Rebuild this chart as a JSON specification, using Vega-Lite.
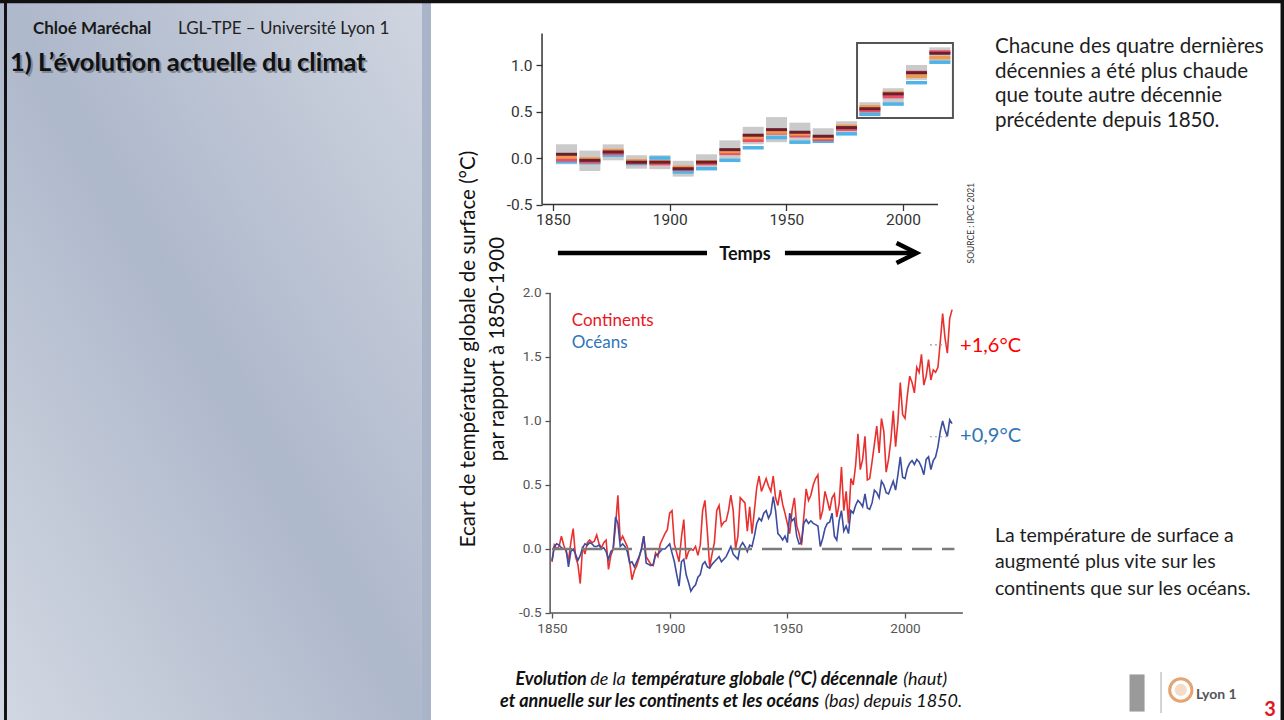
{
"$schema":"https://vega.github.io/schema/vega-lite/v6.json",
"padding":0,"spacing":0,"bounds":"flush","background":"white",
"config":{"view":{"stroke":null},"font":"Lato"},
"datasets":{
"decades":[
{"start":1851.3,"end":1860.3,"lo":-0.068,"hi":0.147,"cyan":-0.04,"red":-0.02,"orange":0.01,"dark":0.04},
{"start":1861.3,"end":1870.3,"lo":-0.14,"hi":0.08,"cyan":-0.05,"red":-0.04,"orange":-0.01,"dark":-0.025},
{"start":1871.3,"end":1880.3,"lo":-0.025,"hi":0.147,"cyan":0.03,"red":0.05,"orange":0.08,"dark":0.065},
{"start":1881.3,"end":1890.3,"lo":-0.115,"hi":0.03,"cyan":-0.06,"red":-0.05,"orange":-0.03,"dark":-0.045},
{"start":1891.3,"end":1900.3,"lo":-0.12,"hi":0.03,"cyan":0.0,"red":-0.06,"orange":-0.04,"dark":-0.045},
{"start":1901.3,"end":1910.3,"lo":-0.2,"hi":-0.03,"cyan":-0.15,"red":-0.12,"orange":-0.1,"dark":-0.115},
{"start":1911.3,"end":1920.3,"lo":-0.11,"hi":0.04,"cyan":-0.115,"red":-0.06,"orange":-0.04,"dark":-0.045},
{"start":1921.3,"end":1930.3,"lo":-0.04,"hi":0.19,"cyan":-0.025,"red":0.05,"orange":0.07,"dark":0.09},
{"start":1931.3,"end":1940.3,"lo":0.147,"hi":0.335,"cyan":0.11,"red":0.19,"orange":0.22,"dark":0.245},
{"start":1941.3,"end":1950.3,"lo":0.17,"hi":0.44,"cyan":0.22,"red":0.27,"orange":0.28,"dark":0.305},
{"start":1951.3,"end":1960.3,"lo":0.16,"hi":0.38,"cyan":0.17,"red":0.24,"orange":0.26,"dark":0.277},
{"start":1961.3,"end":1970.3,"lo":0.16,"hi":0.32,"cyan":0.18,"red":0.2,"orange":0.22,"dark":0.234},
{"start":1971.3,"end":1980.3,"lo":0.25,"hi":0.395,"cyan":0.26,"red":0.31,"orange":0.34,"dark":0.327},
{"start":1981.3,"end":1990.3,"lo":0.45,"hi":0.6,"cyan":0.47,"red":0.51,"orange":0.55,"dark":0.53},
{"start":1991.3,"end":2000.3,"lo":0.57,"hi":0.75,"cyan":0.58,"red":0.66,"orange":0.7,"dark":0.69},
{"start":2001.3,"end":2010.3,"lo":0.84,"hi":1.0,"cyan":0.81,"red":0.92,"orange":0.88,"dark":0.917},
{"start":2011.3,"end":2020.3,"lo":1.02,"hi":1.19,"cyan":1.03,"red":1.14,"orange":1.08,"dark":1.126}
],
"annual":[
{"year":1850,"land":-0.10,"ocean":-0.09},{"year":1851,"land":0.03,"ocean":0.02},{"year":1852,"land":0.00,"ocean":0.04},{"year":1853,"land":0.02,"ocean":0.03},{"year":1854,"land":0.10,"ocean":0.01},{"year":1855,"land":0.03,"ocean":0.00},{"year":1856,"land":-0.02,"ocean":0.00},{"year":1857,"land":-0.09,"ocean":-0.14},{"year":1858,"land":0.05,"ocean":-0.02},{"year":1859,"land":0.16,"ocean":0.00},
{"year":1860,"land":-0.06,"ocean":-0.04},{"year":1861,"land":-0.12,"ocean":-0.09},{"year":1862,"land":-0.27,"ocean":-0.05},{"year":1863,"land":0.02,"ocean":0.01},{"year":1864,"land":-0.04,"ocean":0.04},{"year":1865,"land":0.05,"ocean":0.03},{"year":1866,"land":0.07,"ocean":0.05},{"year":1867,"land":0.05,"ocean":0.04},{"year":1868,"land":0.06,"ocean":0.02},{"year":1869,"land":0.11,"ocean":0.02},
{"year":1870,"land":0.04,"ocean":0.03},{"year":1871,"land":0.01,"ocean":0.00},{"year":1872,"land":0.05,"ocean":0.01},{"year":1873,"land":0.07,"ocean":-0.02},{"year":1874,"land":-0.16,"ocean":-0.08},{"year":1875,"land":-0.05,"ocean":-0.02},{"year":1876,"land":0.00,"ocean":0.00},{"year":1877,"land":0.18,"ocean":0.25},{"year":1878,"land":0.42,"ocean":0.20},{"year":1879,"land":0.06,"ocean":0.02},
{"year":1880,"land":0.10,"ocean":0.04},{"year":1881,"land":0.06,"ocean":0.02},{"year":1882,"land":0.02,"ocean":-0.02},{"year":1883,"land":-0.10,"ocean":-0.11},{"year":1884,"land":-0.24,"ocean":-0.10},{"year":1885,"land":-0.17,"ocean":-0.14},{"year":1886,"land":-0.13,"ocean":-0.10},{"year":1887,"land":-0.07,"ocean":-0.06},{"year":1888,"land":0.00,"ocean":0.00},{"year":1889,"land":0.10,"ocean":0.10},
{"year":1890,"land":-0.06,"ocean":-0.11},{"year":1891,"land":-0.09,"ocean":-0.12},{"year":1892,"land":-0.12,"ocean":-0.13},{"year":1893,"land":-0.13,"ocean":-0.12},{"year":1894,"land":-0.03,"ocean":-0.05},{"year":1895,"land":-0.06,"ocean":-0.04},{"year":1896,"land":0.04,"ocean":-0.02},{"year":1897,"land":0.08,"ocean":0.00},{"year":1898,"land":0.12,"ocean":0.00},{"year":1899,"land":0.15,"ocean":0.02},
{"year":1900,"land":0.28,"ocean":0.04},{"year":1901,"land":0.30,"ocean":-0.03},{"year":1902,"land":0.04,"ocean":-0.10},{"year":1903,"land":-0.03,"ocean":-0.20},{"year":1904,"land":-0.10,"ocean":-0.29},{"year":1905,"land":0.09,"ocean":-0.10},{"year":1906,"land":0.23,"ocean":-0.08},{"year":1907,"land":-0.08,"ocean":-0.20},{"year":1908,"land":-0.02,"ocean":-0.26},{"year":1909,"land":0.00,"ocean":-0.33},
{"year":1910,"land":-0.01,"ocean":-0.30},{"year":1911,"land":0.02,"ocean":-0.28},{"year":1912,"land":-0.05,"ocean":-0.22},{"year":1913,"land":0.03,"ocean":-0.20},{"year":1914,"land":0.30,"ocean":-0.12},{"year":1915,"land":0.38,"ocean":-0.10},{"year":1916,"land":0.14,"ocean":-0.14},{"year":1917,"land":-0.14,"ocean":-0.15},{"year":1918,"land":-0.04,"ocean":-0.12},{"year":1919,"land":0.05,"ocean":-0.10},
{"year":1920,"land":0.30,"ocean":-0.08},{"year":1921,"land":0.34,"ocean":-0.06},{"year":1922,"land":0.18,"ocean":-0.10},{"year":1923,"land":0.21,"ocean":-0.08},{"year":1924,"land":0.22,"ocean":-0.06},{"year":1925,"land":0.30,"ocean":-0.02},{"year":1926,"land":0.42,"ocean":0.02},{"year":1927,"land":0.30,"ocean":-0.04},{"year":1928,"land":0.00,"ocean":-0.06},{"year":1929,"land":0.10,"ocean":-0.08},
{"year":1930,"land":0.40,"ocean":0.02},{"year":1931,"land":0.38,"ocean":0.05},{"year":1932,"land":0.36,"ocean":0.02},{"year":1933,"land":0.14,"ocean":-0.02},{"year":1934,"land":0.33,"ocean":0.03},{"year":1935,"land":0.12,"ocean":0.02},{"year":1936,"land":0.30,"ocean":0.10},{"year":1937,"land":0.48,"ocean":0.20},{"year":1938,"land":0.57,"ocean":0.24},{"year":1939,"land":0.45,"ocean":0.22},
{"year":1940,"land":0.50,"ocean":0.28},{"year":1941,"land":0.55,"ocean":0.30},{"year":1942,"land":0.49,"ocean":0.24},{"year":1943,"land":0.45,"ocean":0.28},{"year":1944,"land":0.57,"ocean":0.41},{"year":1945,"land":0.40,"ocean":0.30},{"year":1946,"land":0.34,"ocean":0.12},{"year":1947,"land":0.46,"ocean":0.10},{"year":1948,"land":0.35,"ocean":0.07},{"year":1949,"land":0.28,"ocean":0.10},
{"year":1950,"land":0.20,"ocean":0.05},{"year":1951,"land":0.12,"ocean":0.28},{"year":1952,"land":0.30,"ocean":0.22},{"year":1953,"land":0.40,"ocean":0.24},{"year":1954,"land":0.18,"ocean":0.10},{"year":1955,"land":0.12,"ocean":0.04},{"year":1956,"land":0.03,"ocean":0.05},{"year":1957,"land":0.25,"ocean":0.20},{"year":1958,"land":0.47,"ocean":0.23},{"year":1959,"land":0.38,"ocean":0.20},
{"year":1960,"land":0.42,"ocean":0.22},{"year":1961,"land":0.50,"ocean":0.20},{"year":1962,"land":0.55,"ocean":0.19},{"year":1963,"land":0.58,"ocean":0.18},{"year":1964,"land":0.23,"ocean":0.02},{"year":1965,"land":0.30,"ocean":0.08},{"year":1966,"land":0.45,"ocean":0.16},{"year":1967,"land":0.38,"ocean":0.20},{"year":1968,"land":0.30,"ocean":0.21},{"year":1969,"land":0.40,"ocean":0.28},
{"year":1970,"land":0.43,"ocean":0.10},{"year":1971,"land":0.25,"ocean":0.07},{"year":1972,"land":0.35,"ocean":0.22},{"year":1973,"land":0.64,"ocean":0.30},{"year":1974,"land":0.30,"ocean":0.14},{"year":1975,"land":0.45,"ocean":0.18},{"year":1976,"land":0.20,"ocean":0.12},{"year":1977,"land":0.55,"ocean":0.30},{"year":1978,"land":0.50,"ocean":0.28},{"year":1979,"land":0.65,"ocean":0.34},
{"year":1980,"land":0.90,"ocean":0.38},{"year":1981,"land":0.62,"ocean":0.36},{"year":1982,"land":0.70,"ocean":0.33},{"year":1983,"land":0.88,"ocean":0.43},{"year":1984,"land":0.54,"ocean":0.32},{"year":1985,"land":0.55,"ocean":0.31},{"year":1986,"land":0.68,"ocean":0.36},{"year":1987,"land":0.82,"ocean":0.46},{"year":1988,"land":0.96,"ocean":0.44},{"year":1989,"land":0.75,"ocean":0.40},
{"year":1990,"land":1.02,"ocean":0.53},{"year":1991,"land":0.92,"ocean":0.50},{"year":1992,"land":0.60,"ocean":0.44},{"year":1993,"land":0.70,"ocean":0.43},{"year":1994,"land":0.85,"ocean":0.48},{"year":1995,"land":1.08,"ocean":0.53},{"year":1996,"land":0.80,"ocean":0.46},{"year":1997,"land":1.00,"ocean":0.58},{"year":1998,"land":1.30,"ocean":0.72},{"year":1999,"land":1.05,"ocean":0.56},
{"year":2000,"land":1.02,"ocean":0.55},{"year":2001,"land":1.20,"ocean":0.63},{"year":2002,"land":1.35,"ocean":0.67},{"year":2003,"land":1.30,"ocean":0.69},{"year":2004,"land":1.22,"ocean":0.66},{"year":2005,"land":1.42,"ocean":0.70},{"year":2006,"land":1.38,"ocean":0.68},{"year":2007,"land":1.52,"ocean":0.64},{"year":2008,"land":1.28,"ocean":0.58},{"year":2009,"land":1.35,"ocean":0.70},
{"year":2010,"land":1.48,"ocean":0.72},{"year":2011,"land":1.32,"ocean":0.62},{"year":2012,"land":1.40,"ocean":0.69},{"year":2013,"land":1.38,"ocean":0.72},{"year":2014,"land":1.42,"ocean":0.80},{"year":2015,"land":1.62,"ocean":0.92},{"year":2016,"land":1.84,"ocean":1.00},{"year":2017,"land":1.65,"ocean":0.93},{"year":2018,"land":1.53,"ocean":0.88},{"year":2019,"land":1.80,"ocean":1.01},{"year":2020,"land":1.87,"ocean":0.98}
]
},
"hconcat":[
{
"width":431,"height":720,
"layer":[
{"data":{"values":[{}]},"mark":{"type":"rect","color":{"gradient":"linear","x1":0,"y1":1,"x2":1,"y2":0,"stops":[{"offset":0,"color":"#d2d8e2"},{"offset":0.5,"color":"#aeb8cb"},{"offset":1,"color":"#cfd5e0"}]}},
 "encoding":{"x":{"datum":0,"type":"quantitative","scale":{"domain":[0,1],"nice":false,"zero":false},"axis":null},"x2":{"datum":0.979},"y":{"datum":0,"type":"quantitative","scale":{"domain":[0,1],"reverse":true,"nice":false,"zero":false},"axis":null},"y2":{"datum":1}}},
{"data":{"values":[{}]},"mark":{"type":"rect","color":"#aab4c9"},
 "encoding":{"x":{"datum":0.979,"type":"quantitative","scale":{"domain":[0,1],"nice":false,"zero":false},"axis":null},"x2":{"datum":1},"y":{"datum":0,"type":"quantitative","scale":{"domain":[0,1],"reverse":true,"nice":false,"zero":false},"axis":null},"y2":{"datum":1}}},
{"data":{"values":[{}]},"mark":{"type":"rect","color":"#111"},
 "encoding":{"x":{"datum":0,"type":"quantitative","scale":{"domain":[0,1],"nice":false,"zero":false},"axis":null},"x2":{"datum":1},"y":{"datum":0,"type":"quantitative","scale":{"domain":[0,1],"reverse":true,"nice":false,"zero":false},"axis":null},"y2":{"datum":0.0045}}},
{"data":{"values":[{}]},"mark":{"type":"rect","color":"#111"},
 "encoding":{"x":{"datum":0.0093,"type":"quantitative","scale":{"domain":[0,1],"nice":false,"zero":false},"axis":null},"x2":{"datum":0.0162},"y":{"datum":0,"type":"quantitative","scale":{"domain":[0,1],"reverse":true,"nice":false,"zero":false},"axis":null},"y2":{"datum":1}}},
{"data":{"values":[{}]},"mark":{"type":"text","text":"Chloé Maréchal","fontWeight":"bold","fontSize":17,"color":"#1a1a1a","align":"left"},
 "encoding":{"x":{"datum":0.0766,"type":"quantitative","scale":{"domain":[0,1],"nice":false,"zero":false},"axis":null},"y":{"datum":0.0396,"type":"quantitative","scale":{"domain":[0,1],"reverse":true,"nice":false,"zero":false},"axis":null}}},
{"data":{"values":[{}]},"mark":{"type":"text","text":"LGL-TPE – Université Lyon 1","fontSize":17,"color":"#222","align":"left"},
 "encoding":{"x":{"datum":0.413,"type":"quantitative","scale":{"domain":[0,1],"nice":false,"zero":false},"axis":null},"y":{"datum":0.0396,"type":"quantitative","scale":{"domain":[0,1],"reverse":true,"nice":false,"zero":false},"axis":null}}},
{"data":{"values":[{}]},"mark":{"type":"text","text":"1) L’évolution actuelle du climat","fontWeight":"bold","fontSize":25.5,"color":"#6d7380","opacity":0.7,"align":"left","dx":2,"dy":2},
 "encoding":{"x":{"datum":0.0232,"type":"quantitative","scale":{"domain":[0,1],"nice":false,"zero":false},"axis":null},"y":{"datum":0.0875,"type":"quantitative","scale":{"domain":[0,1],"reverse":true,"nice":false,"zero":false},"axis":null}}},
{"data":{"values":[{}]},"mark":{"type":"text","text":"1) L’évolution actuelle du climat","fontWeight":"bold","fontSize":25.5,"color":"#111","align":"left"},
 "encoding":{"x":{"datum":0.0232,"type":"quantitative","scale":{"domain":[0,1],"nice":false,"zero":false},"axis":null},"y":{"datum":0.0875,"type":"quantitative","scale":{"domain":[0,1],"reverse":true,"nice":false,"zero":false},"axis":null}}}
]
},
{
"width":853,"height":720,
"resolve":{"scale":{"x":"independent","y":"independent","color":"independent"},"axis":{"x":"independent","y":"independent"}},
"layer":[
{"data":{"values":[{}]},"mark":{"type":"rect","color":"#111"},
 "encoding":{"x":{"datum":1797.714,"type":"quantitative","scale":{"domain":[1797.714,2163.286],"nice":false,"zero":false},"axis":null},"x2":{"datum":2163.286},"y":{"datum":1.699,"type":"quantitative","scale":{"domain":[-6.043,1.699],"nice":false,"zero":false},"axis":null},"y2":{"datum":1.6646}}},
{"data":{"values":[{}]},"mark":{"type":"rect","color":"#111"},
 "encoding":{"x":{"datum":2161.8,"type":"quantitative","scale":{"domain":[1797.714,2163.286],"nice":false,"zero":false},"axis":null},"x2":{"datum":2163.286},"y":{"datum":1.699,"type":"quantitative","scale":{"domain":[-6.043,1.699],"nice":false,"zero":false},"axis":null},"y2":{"datum":-6.043}}},
{"data":{"name":"decades"},"mark":{"type":"rect","color":"#cacaca"},
 "encoding":{"x":{"field":"start","type":"quantitative","scale":{"domain":[1797.714,2163.286],"nice":false,"zero":false},
   "axis":{"orient":"bottom","offset":-515.5,"values":[1850,1900,1950,2000],"format":"d","domain":false,"grid":false,"tickSize":6,"tickColor":"#333","tickWidth":1.3,"labelFont":"Roboto","labelFontSize":15.5,"labelColor":"#333","labelPadding":2,"labelFlush":false,"title":null}},
  "x2":{"field":"end"},
  "y":{"field":"lo","type":"quantitative","scale":{"domain":[-6.043,1.699],"nice":false,"zero":false},
   "axis":{"orient":"left","offset":-111,"values":[-0.5,0,0.5,1],"labelExpr":"(datum.value < 0 ? '-' : '') + format(abs(datum.value), '.1f')","domain":false,"grid":false,"tickSize":6,"tickColor":"#333","tickWidth":1.3,"labelFont":"Roboto","labelFontSize":15.5,"labelColor":"#333","labelPadding":4,"labelFlush":false,"title":null}},
  "y2":{"field":"hi"}}},
{"data":{"name":"decades"},"mark":{"type":"rule","color":"#4fb3e8","strokeWidth":3.5},
 "encoding":{"x":{"field":"start","type":"quantitative","scale":{"domain":[1797.714,2163.286],"nice":false,"zero":false},"axis":null},"x2":{"field":"end"},"y":{"field":"cyan","type":"quantitative","scale":{"domain":[-6.043,1.699],"nice":false,"zero":false},"axis":null}}},
{"data":{"name":"decades"},"mark":{"type":"rule","color":"#e8506a","strokeWidth":3.5},
 "encoding":{"x":{"field":"start","type":"quantitative","scale":{"domain":[1797.714,2163.286],"nice":false,"zero":false},"axis":null},"x2":{"field":"end"},"y":{"field":"red","type":"quantitative","scale":{"domain":[-6.043,1.699],"nice":false,"zero":false},"axis":null}}},
{"data":{"name":"decades"},"mark":{"type":"rule","color":"#f0984c","strokeWidth":3.5},
 "encoding":{"x":{"field":"start","type":"quantitative","scale":{"domain":[1797.714,2163.286],"nice":false,"zero":false},"axis":null},"x2":{"field":"end"},"y":{"field":"orange","type":"quantitative","scale":{"domain":[-6.043,1.699],"nice":false,"zero":false},"axis":null}}},
{"data":{"name":"decades"},"mark":{"type":"rule","color":"#6b1f2e","strokeWidth":3},
 "encoding":{"x":{"field":"start","type":"quantitative","scale":{"domain":[1797.714,2163.286],"nice":false,"zero":false},"axis":null},"x2":{"field":"end"},"y":{"field":"dark","type":"quantitative","scale":{"domain":[-6.043,1.699],"nice":false,"zero":false},"axis":null}}},
{"data":{"values":[{}]},"mark":{"type":"rect","filled":false,"stroke":"#555","strokeWidth":2},
 "encoding":{"x":{"datum":1980.3,"type":"quantitative","scale":{"domain":[1797.714,2163.286],"nice":false,"zero":false},"axis":null},"x2":{"datum":2021.4},"y":{"datum":0.43,"type":"quantitative","scale":{"domain":[-6.043,1.699],"nice":false,"zero":false},"axis":null},"y2":{"datum":1.237}}},
{"data":{"values":[{}]},"mark":{"type":"rule","color":"#333","strokeWidth":1.5},
 "encoding":{"x":{"datum":1845.3,"type":"quantitative","scale":{"domain":[1797.714,2163.286],"nice":false,"zero":false},"axis":null},"y":{"datum":-0.5,"type":"quantitative","scale":{"domain":[-6.043,1.699],"nice":false,"zero":false},"axis":null},"y2":{"datum":1.34}}},
{"data":{"values":[{}]},"mark":{"type":"rule","color":"#333","strokeWidth":1.5},
 "encoding":{"x":{"datum":1845.3,"type":"quantitative","scale":{"domain":[1797.714,2163.286],"nice":false,"zero":false},"axis":null},"x2":{"datum":2015},"y":{"datum":-0.5,"type":"quantitative","scale":{"domain":[-6.043,1.699],"nice":false,"zero":false},"axis":null}}},
{"data":{"values":[{}]},"mark":{"type":"rule","color":"#000","strokeWidth":4.5},
 "encoding":{"x":{"datum":1852.1,"type":"quantitative","scale":{"domain":[1797.714,2163.286],"nice":false,"zero":false},"axis":null},"x2":{"datum":1916.0},"y":{"datum":-1.0215,"type":"quantitative","scale":{"domain":[-6.043,1.699],"nice":false,"zero":false},"axis":null}}},
{"data":{"values":[{}]},"mark":{"type":"rule","color":"#000","strokeWidth":4.5},
 "encoding":{"x":{"datum":1949.4,"type":"quantitative","scale":{"domain":[1797.714,2163.286],"nice":false,"zero":false},"axis":null},"x2":{"datum":2004.8},"y":{"datum":-1.0215,"type":"quantitative","scale":{"domain":[-6.043,1.699],"nice":false,"zero":false},"axis":null}}},
{"data":{"values":[{}]},"mark":{"type":"point","shape":"M -2 -1 L 0 0 L -2 1","size":400,"filled":false,"stroke":"#000","strokeWidth":4.5,"opacity":1},
 "encoding":{"x":{"datum":2005.8,"type":"quantitative","scale":{"domain":[1797.714,2163.286],"nice":false,"zero":false},"axis":null},"y":{"datum":-1.0215,"type":"quantitative","scale":{"domain":[-6.043,1.699],"nice":false,"zero":false},"axis":null}}},
{"data":{"values":[{}]},"mark":{"type":"text","text":"Temps","fontWeight":"bold","fontSize":18,"color":"#111","align":"center"},
 "encoding":{"x":{"datum":1932.3,"type":"quantitative","scale":{"domain":[1797.714,2163.286],"nice":false,"zero":false},"axis":null},"y":{"datum":-1.043,"type":"quantitative","scale":{"domain":[-6.043,1.699],"nice":false,"zero":false},"axis":null}}},
{"data":{"values":[{}]},"mark":{"type":"text","text":"SOURCE : IPCC 2021","fontSize":8.5,"color":"#333","align":"center","baseline":"middle","angle":270},
 "encoding":{"x":{"datum":2029.2,"type":"quantitative","scale":{"domain":[1797.714,2163.286],"nice":false,"zero":false},"axis":null},"y":{"datum":-0.7,"type":"quantitative","scale":{"domain":[-6.043,1.699],"nice":false,"zero":false},"axis":null}}},
{"data":{"values":[{}]},"mark":{"type":"text","text":"Ecart de température globale de surface (°C)","fontSize":20.5,"color":"#111","align":"center","baseline":"middle","angle":270},
 "encoding":{"x":{"datum":1814.0,"type":"quantitative","scale":{"domain":[1797.714,2163.286],"nice":false,"zero":false},"axis":null},"y":{"datum":-2.054,"type":"quantitative","scale":{"domain":[-6.043,1.699],"nice":false,"zero":false},"axis":null}}},
{"data":{"values":[{}]},"mark":{"type":"text","text":"par rapport à 1850-1900","fontSize":20.5,"color":"#111","align":"center","baseline":"middle","angle":270},
 "encoding":{"x":{"datum":1826.3,"type":"quantitative","scale":{"domain":[1797.714,2163.286],"nice":false,"zero":false},"axis":null},"y":{"datum":-2.054,"type":"quantitative","scale":{"domain":[-6.043,1.699],"nice":false,"zero":false},"axis":null}}},
{"data":{"values":[{}]},"mark":{"type":"text","text":["Chacune des quatre dernières","décennies a été plus chaude","que toute autre décennie","précédente depuis 1850."],"fontSize":20.6,"lineHeight":24.8,"color":"#1e1e1e","align":"left"},
 "encoding":{"x":{"datum":2039.4,"type":"quantitative","scale":{"domain":[1797.714,2163.286],"nice":false,"zero":false},"axis":null},"y":{"datum":1.196,"type":"quantitative","scale":{"domain":[-6.043,1.699],"nice":false,"zero":false},"axis":null}}},

{"data":{"name":"annual"},"mark":{"type":"line","color":"#e8312f","strokeWidth":1.6},
 "encoding":{"x":{"field":"year","type":"quantitative","scale":{"domain":[1798.584,2161.05],"nice":false,"zero":false},
   "axis":{"orient":"bottom","offset":-107,"values":[1850,1900,1950,2000],"format":"d","domain":false,"grid":false,"tickSize":5,"tickColor":"#555","tickWidth":1.3,"labelFont":"Roboto","labelFontSize":13.5,"labelColor":"#555","labelPadding":3,"labelFlush":false,"title":null}},
  "y":{"field":"land","type":"quantitative","scale":{"domain":[-1.336,4.289],"nice":false,"zero":false},
   "axis":{"orient":"left","offset":-119,"values":[-0.5,0,0.5,1,1.5,2],"labelExpr":"(datum.value < 0 ? '-' : '') + format(abs(datum.value), '.1f')","domain":false,"grid":false,"tickSize":5,"tickColor":"#555","tickWidth":1.3,"labelFont":"Roboto","labelFontSize":13.5,"labelColor":"#555","labelPadding":4,"labelFlush":false,"title":null}}}},
{"data":{"name":"annual"},"mark":{"type":"line","color":"#3d4c9e","strokeWidth":1.6},
 "encoding":{"x":{"field":"year","type":"quantitative","scale":{"domain":[1798.584,2161.05],"nice":false,"zero":false},"axis":null},"y":{"field":"ocean","type":"quantitative","scale":{"domain":[-1.336,4.289],"nice":false,"zero":false},"axis":null}}},
{"data":{"values":[{}]},"mark":{"type":"rule","color":"#7b7b7b","strokeWidth":2.5,"strokeDash":[20,10]},
 "encoding":{"x":{"datum":1850,"type":"quantitative","scale":{"domain":[1798.584,2161.05],"nice":false,"zero":false},"axis":null},"x2":{"datum":2021},"y":{"datum":0,"type":"quantitative","scale":{"domain":[-1.336,4.289],"nice":false,"zero":false},"axis":null}}},
{"data":{"values":[{}]},"mark":{"type":"rule","color":"#999","strokeWidth":1.2,"strokeDash":[2,3]},
 "encoding":{"x":{"datum":2010.6,"type":"quantitative","scale":{"domain":[1798.584,2161.05],"nice":false,"zero":false},"axis":null},"x2":{"datum":2019.1},"y":{"datum":1.594,"type":"quantitative","scale":{"domain":[-1.336,4.289],"nice":false,"zero":false},"axis":null}}},
{"data":{"values":[{}]},"mark":{"type":"rule","color":"#999","strokeWidth":1.2,"strokeDash":[2,3]},
 "encoding":{"x":{"datum":2010.6,"type":"quantitative","scale":{"domain":[1798.584,2161.05],"nice":false,"zero":false},"axis":null},"x2":{"datum":2019.1},"y":{"datum":0.877,"type":"quantitative","scale":{"domain":[-1.336,4.289],"nice":false,"zero":false},"axis":null}}},
{"data":{"values":[{}]},"mark":{"type":"rule","color":"#555","strokeWidth":1.5},
 "encoding":{"x":{"datum":1849.2,"type":"quantitative","scale":{"domain":[1798.584,2161.05],"nice":false,"zero":false},"axis":null},"y":{"datum":-0.5,"type":"quantitative","scale":{"domain":[-1.336,4.289],"nice":false,"zero":false},"axis":null},"y2":{"datum":2.0}}},
{"data":{"values":[{}]},"mark":{"type":"rule","color":"#555","strokeWidth":1.5},
 "encoding":{"x":{"datum":1849.2,"type":"quantitative","scale":{"domain":[1798.584,2161.05],"nice":false,"zero":false},"axis":null},"x2":{"datum":2024.6},"y":{"datum":-0.5,"type":"quantitative","scale":{"domain":[-1.336,4.289],"nice":false,"zero":false},"axis":null}}},
{"data":{"values":[{}]},"mark":{"type":"text","text":"Continents","fontSize":17,"color":"#e8171f","align":"left"},
 "encoding":{"x":{"datum":1858.4,"type":"quantitative","scale":{"domain":[1798.584,2161.05],"nice":false,"zero":false},"axis":null},"y":{"datum":1.781,"type":"quantitative","scale":{"domain":[-1.336,4.289],"nice":false,"zero":false},"axis":null}}},
{"data":{"values":[{}]},"mark":{"type":"text","text":"Océans","fontSize":17,"color":"#2e75b6","align":"left"},
 "encoding":{"x":{"datum":1858.4,"type":"quantitative","scale":{"domain":[1798.584,2161.05],"nice":false,"zero":false},"axis":null},"y":{"datum":1.613,"type":"quantitative","scale":{"domain":[-1.336,4.289],"nice":false,"zero":false},"axis":null}}},
{"data":{"values":[{}]},"mark":{"type":"text","text":"+1,6°C","fontSize":20,"color":"#ff0000","align":"left"},
 "encoding":{"x":{"datum":2023.4,"type":"quantitative","scale":{"domain":[1798.584,2161.05],"nice":false,"zero":false},"axis":null},"y":{"datum":1.586,"type":"quantitative","scale":{"domain":[-1.336,4.289],"nice":false,"zero":false},"axis":null}}},
{"data":{"values":[{}]},"mark":{"type":"text","text":"+0,9°C","fontSize":20,"color":"#2e75b6","align":"left"},
 "encoding":{"x":{"datum":2023.4,"type":"quantitative","scale":{"domain":[1798.584,2161.05],"nice":false,"zero":false},"axis":null},"y":{"datum":0.883,"type":"quantitative","scale":{"domain":[-1.336,4.289],"nice":false,"zero":false},"axis":null}}},
{"data":{"values":[{}]},"mark":{"type":"text","text":["La température de surface a","augmenté plus vite sur les","continents que sur les océans."],"fontSize":19.5,"lineHeight":26.5,"color":"#1e1e1e","align":"left"},
 "encoding":{"x":{"datum":2038.2,"type":"quantitative","scale":{"domain":[1798.584,2161.05],"nice":false,"zero":false},"axis":null},"y":{"datum":0.1016,"type":"quantitative","scale":{"domain":[-1.336,4.289],"nice":false,"zero":false},"axis":null}}},
{"data":{"values":[{}]},"mark":{"type":"text","text":"Evolution","fontSize":18,"fontWeight":"bold","fontStyle":"italic","color":"#111","align":"left"},
 "encoding":{"x":{"datum":1834.49,"type":"quantitative","scale":{"domain":[1798.584,2161.05],"nice":false,"zero":false},"axis":null},"y":{"datum":-1.023,"type":"quantitative","scale":{"domain":[-1.336,4.289],"nice":false,"zero":false},"axis":null}}},
{"data":{"values":[{}]},"mark":{"type":"text","text":"de la","fontSize":18,"fontStyle":"italic","color":"#111","align":"left"},
 "encoding":{"x":{"datum":1866.23,"type":"quantitative","scale":{"domain":[1798.584,2161.05],"nice":false,"zero":false},"axis":null},"y":{"datum":-1.023,"type":"quantitative","scale":{"domain":[-1.336,4.289],"nice":false,"zero":false},"axis":null}}},
{"data":{"values":[{}]},"mark":{"type":"text","text":"température globale (°C) décennale","fontSize":18,"fontWeight":"bold","fontStyle":"italic","color":"#111","align":"left"},
 "encoding":{"x":{"datum":1883.65,"type":"quantitative","scale":{"domain":[1798.584,2161.05],"nice":false,"zero":false},"axis":null},"y":{"datum":-1.023,"type":"quantitative","scale":{"domain":[-1.336,4.289],"nice":false,"zero":false},"axis":null}}},
{"data":{"values":[{}]},"mark":{"type":"text","text":"(haut)","fontSize":18,"fontStyle":"italic","color":"#111","align":"left"},
 "encoding":{"x":{"datum":1999.28,"type":"quantitative","scale":{"domain":[1798.584,2161.05],"nice":false,"zero":false},"axis":null},"y":{"datum":-1.023,"type":"quantitative","scale":{"domain":[-1.336,4.289],"nice":false,"zero":false},"axis":null}}},
{"data":{"values":[{}]},"mark":{"type":"text","text":"et annuelle sur les continents et les océans","fontSize":18,"fontWeight":"bold","fontStyle":"italic","color":"#111","align":"left"},
 "encoding":{"x":{"datum":1827.9,"type":"quantitative","scale":{"domain":[1798.584,2161.05],"nice":false,"zero":false},"axis":null},"y":{"datum":-1.195,"type":"quantitative","scale":{"domain":[-1.336,4.289],"nice":false,"zero":false},"axis":null}}},
{"data":{"values":[{}]},"mark":{"type":"text","text":"(bas) depuis 1850.","fontSize":18,"fontStyle":"italic","color":"#111","align":"left"},
 "encoding":{"x":{"datum":1965.75,"type":"quantitative","scale":{"domain":[1798.584,2161.05],"nice":false,"zero":false},"axis":null},"y":{"datum":-1.195,"type":"quantitative","scale":{"domain":[-1.336,4.289],"nice":false,"zero":false},"axis":null}}},
{"data":{"values":[{}]},"mark":{"type":"rect","color":"#9a9a9a"},
 "encoding":{"x":{"datum":2095.4,"type":"quantitative","scale":{"domain":[1798.584,2161.05],"nice":false,"zero":false},"axis":null},"x2":{"datum":2101.8},"y":{"datum":-0.98,"type":"quantitative","scale":{"domain":[-1.336,4.289],"nice":false,"zero":false},"axis":null},"y2":{"datum":-1.27}}},
{"data":{"values":[{}]},"mark":{"type":"rule","color":"#c4c4c4","strokeWidth":1.5},
 "encoding":{"x":{"datum":2108.8,"type":"quantitative","scale":{"domain":[1798.584,2161.05],"nice":false,"zero":false},"axis":null},"y":{"datum":-0.961,"type":"quantitative","scale":{"domain":[-1.336,4.289],"nice":false,"zero":false},"axis":null},"y2":{"datum":-1.281}}},
{"data":{"values":[{}]},"mark":{"type":"point","shape":"circle","size":150,"filled":true,"color":"#f4dcc6","opacity":1},
 "encoding":{"x":{"datum":2117.2,"type":"quantitative","scale":{"domain":[1798.584,2161.05],"nice":false,"zero":false},"axis":null},"y":{"datum":-1.1016,"type":"quantitative","scale":{"domain":[-1.336,4.289],"nice":false,"zero":false},"axis":null}}},
{"data":{"values":[{}]},"mark":{"type":"point","shape":"circle","size":500,"filled":false,"stroke":"#e3a574","strokeWidth":3,"opacity":1},
 "encoding":{"x":{"datum":2117.2,"type":"quantitative","scale":{"domain":[1798.584,2161.05],"nice":false,"zero":false},"axis":null},"y":{"datum":-1.1016,"type":"quantitative","scale":{"domain":[-1.336,4.289],"nice":false,"zero":false},"axis":null}}},
{"data":{"values":[{}]},"mark":{"type":"text","text":"Lyon 1","fontSize":14,"fontWeight":"bold","color":"#555","align":"left"},
 "encoding":{"x":{"datum":2123.7,"type":"quantitative","scale":{"domain":[1798.584,2161.05],"nice":false,"zero":false},"axis":null},"y":{"datum":-1.1406,"type":"quantitative","scale":{"domain":[-1.336,4.289],"nice":false,"zero":false},"axis":null}}},
{"data":{"values":[{}]},"mark":{"type":"text","text":"3","fontSize":20,"fontWeight":"bold","color":"#e0181f","align":"center"},
 "encoding":{"x":{"datum":2155.1,"type":"quantitative","scale":{"domain":[1798.584,2161.05],"nice":false,"zero":false},"axis":null},"y":{"datum":-1.258,"type":"quantitative","scale":{"domain":[-1.336,4.289],"nice":false,"zero":false},"axis":null}}}
]
}
]
}
